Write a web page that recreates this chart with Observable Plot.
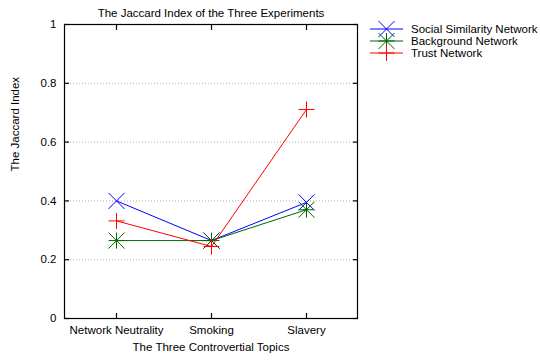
<!DOCTYPE html>
<html><head><meta charset="utf-8">
<script src="https://cdn.jsdelivr.net/npm/d3@7"></script>
<script src="https://cdn.jsdelivr.net/npm/@observablehq/plot@0.6"></script>
<style>body{margin:0;background:#fff}</style>
</head><body><div id="chart"></div>
<script>
const topics = ["Network Neutrality", "Smoking", "Slavery"];
const seriesNames = ["Social Similarity Network", "Background Network", "Trust Network"];
const socialValues = [0.40, 0.265, 0.395];
const backgroundValues = [0.265, 0.265, 0.37];
const trustValues = [0.332, 0.245, 0.711];
const yTicks = [0, 0.2, 0.4, 0.6, 0.8, 1];
const colors = ["#0000ff", "#006400", "#ff0000"];
const titleText = "The Jaccard Index of the Three Experiments";
const xLabel = "The Three Controvertial Topics";
const yLabel = "The Jaccard Index";

const plusSym = {draw(c, size) {const r = Math.sqrt(size / Math.PI); c.moveTo(-r, 0); c.lineTo(r, 0); c.moveTo(0, -r); c.lineTo(0, r);}};
const timesSym = {draw(c, size) {const r = Math.sqrt(size / Math.PI); c.moveTo(-r, -r); c.lineTo(r, r); c.moveTo(-r, r); c.lineTo(r, -r);}};
const seriesSymbols = [[timesSym], [plusSym, timesSym], [plusSym]];

const valuesBySeries = [socialValues, backgroundValues, trustValues];
const rows = [];
seriesNames.forEach((s, i) => topics.forEach((t, j) => rows.push({series: s, topic: t, value: valuesBySeries[i][j]})));

const seriesMarks = [];
seriesNames.forEach((s, i) => {
  const data = rows.filter(d => d.series === s);
  seriesMarks.push(Plot.line(data, {x: "topic", y: "value", stroke: colors[i], strokeWidth: 1}));
  seriesSymbols[i].forEach(sym => seriesMarks.push(Plot.dot(data, {x: "topic", y: "value", symbol: sym, r: 8, fill: "none", stroke: colors[i], strokeWidth: 1})));
});

const chart = Plot.plot({
  width: 540, height: 362,
  marginLeft: 64, marginRight: 183, marginTop: 24, marginBottom: 44,
  style: {fontFamily: "'Liberation Sans', Arial, sans-serif", fontSize: "11.5px", background: "#fff", color: "#000"},
  x: {type: "point", domain: topics, padding: 0.54},
  y: {domain: [0, 1]},
  marks: [
    Plot.ruleY(yTicks.slice(1, -1), {stroke: "#b0b0b0", strokeDasharray: "1,2", strokeWidth: 1}),
    Plot.axisY(yTicks, {anchor: "left", tickSize: -5, tickPadding: 13, tickFormat: d => String(d), label: null, strokeWidth: 1.2}),
    Plot.axisY(yTicks, {anchor: "right", tickSize: -5, tickFormat: () => "", label: null, strokeWidth: 1.2}),
    Plot.axisX({anchor: "bottom", tickSize: -5, tickPadding: 12, label: null, strokeWidth: 1.2}),
    Plot.axisX({anchor: "top", tickSize: -5, tickFormat: () => "", label: null, strokeWidth: 1.2}),
    Plot.frame({stroke: "#000", strokeWidth: 1.2}),
    Plot.text([titleText], {frameAnchor: "top", dy: -16, text: d => d, fill: "#000"}),
    Plot.text([xLabel], {frameAnchor: "bottom", dy: 32, text: d => d, fill: "#000"}),
    Plot.text([yLabel], {frameAnchor: "left", dx: -49, rotate: -90, text: d => d, fill: "#000"}),
    ...seriesMarks
  ]
});

// legend
const svg = d3.select(chart);
const lg = svg.append("g").attr("font-family", "'Liberation Sans', Arial, sans-serif").attr("font-size", "11.5px").attr("text-anchor", "start");
seriesNames.forEach((s, i) => {
  const y = 29 + i * 12;
  lg.append("line").attr("x1", 370).attr("x2", 403).attr("y1", y).attr("y2", y).attr("stroke", colors[i]).attr("stroke-width", 1);
  seriesSymbols[i].forEach(sym => {
    lg.append("path").attr("d", d3.symbol(sym, 64 * Math.PI)()).attr("transform", `translate(386.5,${y})`).attr("fill", "none").attr("stroke", colors[i]).attr("stroke-width", 1);
  });
  lg.append("text").attr("x", 411).attr("y", y).attr("dy", "0.35em").attr("text-anchor", "start").attr("fill", "#000").text(s);
});

document.getElementById("chart").appendChild(chart);
</script>
</body></html>
